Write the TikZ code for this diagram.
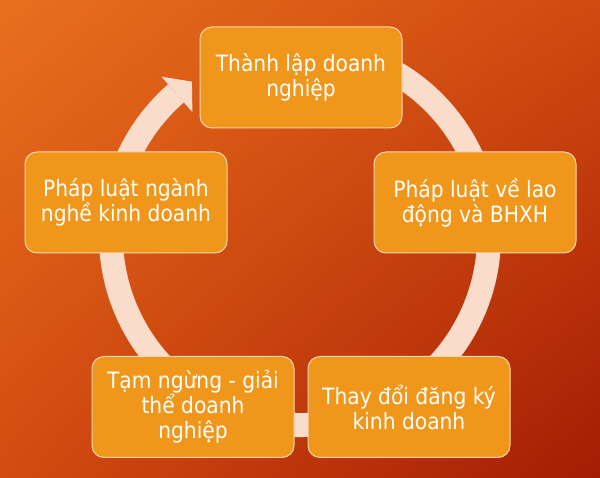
\documentclass[tikz,border=0pt]{standalone}
\usepackage{fontspec}
\setmainfont{DejaVu Sans Condensed}
\usepackage{tikz}
\usetikzlibrary{positioning, shadings}
\usepackage{xcolor}
\definecolor{bgtl}{HTML}{E8701E}
\definecolor{bgtr}{HTML}{D14A10}
\definecolor{bgbl}{HTML}{D34C10}
\definecolor{bgbr}{HTML}{A41C04}
\definecolor{ringcol}{HTML}{FADCCB}
\definecolor{boxfill}{HTML}{F0961A}
\definecolor{boxline}{HTML}{FAD6B0}

\begin{document}
\begin{tikzpicture}[x=1pt,y=1pt,
    phase/.style={draw=boxline, line width=1pt, fill=boxfill, rounded corners=12pt,
      minimum width=202pt, minimum height=101pt, align=center, text=white,
      font=\fontsize{22.5}{25}\selectfont}]
    \shade[upper left=bgtl, upper right=bgtr, lower left=bgbl, lower right=bgbr] (0,0) rectangle (600,478);
    \useasboundingbox (0,0) rectangle (600,478);
    \coordinate (c) at (300,242);
    \draw [line width=24pt, ringcol] ([shift={(70:189)}]c) arc [start angle=70, end angle=-229, radius=189];
    \fill [ringcol] ([shift={(131:211)}]c) -- ([shift={(125:188.5)}]c) -- ([shift={(131:164)}]c) -- cycle;
    \node [phase] (thanhlap) at (301,400.5) {Thành lập doanh\\nghiệp};
    \node [phase] (laodong) at (475,275.5) {Pháp luật về lao\\động và BHXH};
    \node [phase] (tamngung) at (193,71) {Tạm ngừng - giải\\thể doanh\\nghiệp};
    \node [phase, right=13pt of tamngung] (thaydoi) {Thay đổi đăng ký\\kinh doanh};
    \node [phase] (nganhnghe) at (126,275.5) {Pháp luật ngành\\nghề kinh doanh};
\end{tikzpicture}
\end{document}
